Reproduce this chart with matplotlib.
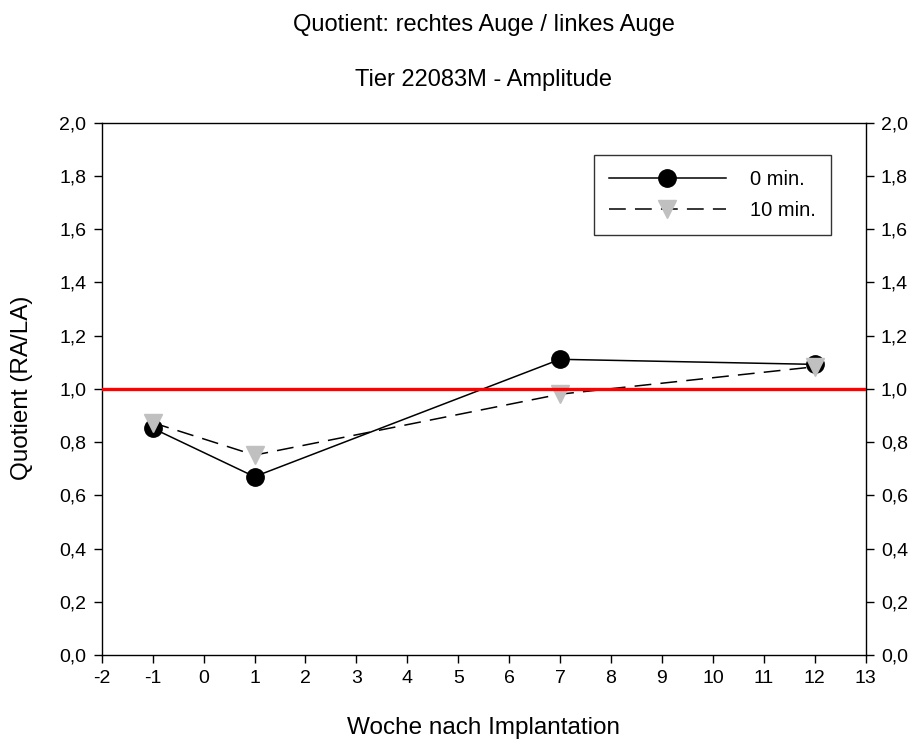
import numpy as np
import matplotlib.pyplot as plt
from matplotlib.ticker import FuncFormatter

plt.rcParams['font.family'] = ['Liberation Sans', 'DejaVu Sans']
plt.rcParams['axes.unicode_minus'] = False

# data
weeks = [-1, 1, 7, 12]
q_0min = [0.852, 0.670, 1.111, 1.092]
q_10min = [0.873, 0.751, 0.980, 1.083]
labels = ['0 min.', '10 min.']
x_ticks = np.arange(-2, 14, 1)
y_ticks = np.arange(0, 2.01, 0.2)

W, H = 917, 742
fig = plt.figure(figsize=(W / 100, H / 100), dpi=100)
ax = fig.add_axes([101.7 / W, 1 - 655 / H, (865.7 - 101.7) / W, (655 - 122.7) / H])

ax.plot(weeks, q_0min, '-', color='black', lw=1.1, marker='o', ms=12.5,
        mfc='black', mec='black', zorder=3, label=labels[0])
ax.plot(weeks, q_10min, '--', color='black', lw=1.1, dashes=(11, 6), marker='v', ms=13,
        mfc='#c0c0c0', mec='#c0c0c0', zorder=4, label=labels[1])
ax.axhline(1.0, color='#ff0000', lw=2.4, zorder=5)

ax.set_xlim(-2, 13)
ax.set_ylim(0, 2.0)
ax.set_xticks(x_ticks)
ax.set_yticks(y_ticks)
ax.yaxis.set_major_formatter(FuncFormatter(lambda v, p: ('%.1f' % v).replace('.', ',')))
ax.tick_params(direction='out', length=6, width=1, labelsize=14,
               right=True, labelright=True, pad=5)
for s in ax.spines.values():
    s.set_linewidth(1)

leg = ax.legend(loc='upper right', bbox_to_anchor=(0.9545, 0.939), fontsize=14.5,
                frameon=True, fancybox=False, edgecolor='black', handlelength=5.8,
                handletextpad=1.2, borderpad=0.75, labelspacing=0.6, borderaxespad=0)
leg.get_frame().set_linewidth(1)

fig.text(483.7 / W, 1 - 25 / H, 'Quotient: rechtes Auge / linkes Auge', ha='center', va='center', fontsize=17)
fig.text(483.7 / W, 1 - 80 / H, 'Tier 22083M - Amplitude', ha='center', va='center', fontsize=17)
fig.text(483.7 / W, 1 - 728 / H, 'Woche nach Implantation', ha='center', va='center', fontsize=17.5)
fig.text(22 / W, 1 - 388 / H, 'Quotient (RA/LA)', ha='center', va='center', rotation=90, fontsize=17.5)

fig.savefig('out.png', dpi=100)
